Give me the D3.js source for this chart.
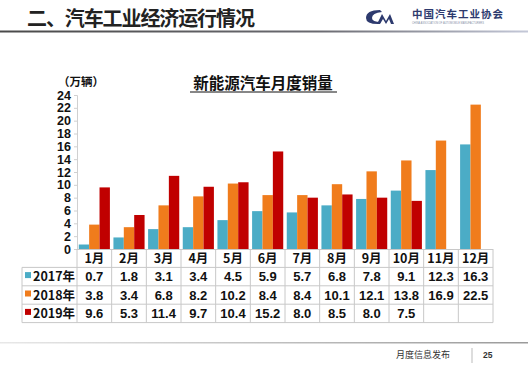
<!DOCTYPE html>
<html><head><meta charset="utf-8">
<script src="https://cdn.jsdelivr.net/npm/d3@7"></script>
<style>
body{margin:0;background:#fff;}
svg{display:block;font-family:"Liberation Sans","Noto Sans CJK SC",sans-serif;}
</style></head>
<body><svg id="c" width="528" height="365"></svg>
<script>
const months = ["1月","2月","3月","4月","5月","6月","7月","8月","9月","10月","11月","12月"];
const seriesNames = ["2017年","2018年","2019年"];
const v2017 = [0.7,1.8,3.1,3.4,4.5,5.9,5.7,6.8,7.8,9.1,12.3,16.3];
const v2018 = [3.8,3.4,6.8,8.2,10.2,8.4,8.4,10.1,12.1,13.8,16.9,22.5];
const v2019 = [9.6,5.3,11.4,9.7,10.4,15.2,8.0,8.5,8.0,7.5,null,null];
const yTicks = [0,2,4,6,8,10,12,14,16,18,20,22,24];
const colors = ["#4bacc6","#f07c1c","#c00000"];
const series = [v2017,v2018,v2019];

const svg = d3.select("#c");
const cjk = '"Noto Sans CJK SC",sans-serif';

// header
const defs = svg.append("defs");
const g1 = defs.append("linearGradient").attr("id","hl").attr("x1","0").attr("x2","1");
g1.append("stop").attr("offset","0").attr("stop-color","#4a4a4a");
g1.append("stop").attr("offset","0.6").attr("stop-color","#6a6a70");
g1.append("stop").attr("offset","1").attr("stop-color","#c4c8d8");
svg.append("text").attr("x",27).attr("y",26).attr("font-family",cjk).attr("font-weight","bold")
  .attr("font-size",20).attr("letter-spacing",-1.1).attr("fill","#222").text("二、汽车工业经济运行情况");
svg.append("rect").attr("x",0).attr("y",30.5).attr("width",528).attr("height",2).attr("fill","url(#hl)");
// logo
svg.append("path").attr("d","M380,10 Q366,10 366,18 Q366,24 378,24 L381,22 Q372,22 372,18 Q372,13 382,12 Z").attr("fill","#2d3a6e");
svg.append("path").attr("d","M377,24 L382,14 L386,21 L390,14 L394,24 L391,24 L389,19 L386,24 L383,19 L380,24 Z").attr("fill","#2d3a6e");
svg.append("text").attr("x",412).attr("y",18).attr("font-family",cjk).attr("font-weight","bold")
  .attr("font-size",10.5).attr("fill","#2d3a6e").attr("letter-spacing",1).text("中国汽车工业协会");
svg.append("text").attr("x",412).attr("y",24).attr("font-size",2.6).attr("fill","#8890a8")
  .text("CHINA ASSOCIATION OF AUTOMOBILE MANUFACTURERS");

// chart title
svg.append("text").attr("x",263).attr("y",89).attr("text-anchor","middle").attr("font-family",cjk)
  .attr("font-weight","bold").attr("font-size",15.5).attr("fill","#111").text("新能源汽车月度销量");
svg.append("line").attr("x1",190).attr("x2",337).attr("y1",92).attr("y2",92).attr("stroke","#111").attr("stroke-width",1.2);

// scales
const x = d3.scaleBand().domain(months).range([77,493]).paddingInner(0).paddingOuter(0);
const xi = d3.scaleBand().domain(d3.range(3)).range([0,x.bandwidth()]).paddingOuter(0.17).paddingInner(0);
const y = d3.scaleLinear().domain([0,24]).range([249,95]);

// y axis
const ya = svg.append("g").attr("transform","translate(77,0)")
  .call(d3.axisLeft(y).tickValues(yTicks).tickSize(3).tickPadding(3));
ya.select(".domain").attr("stroke","#d0d0d0");
ya.selectAll(".tick line").attr("stroke","#d0d0d0");
ya.selectAll("text").attr("font-weight","bold").attr("font-size",12.5).attr("fill","#111")
  .attr("font-family","Liberation Sans,sans-serif");
svg.append("text").attr("x",58).attr("y",86).attr("font-family",cjk).attr("font-weight","bold")
  .attr("font-size",11.5).attr("fill","#111").text("（万辆）");

// bars
series.forEach((s,i)=>{
  svg.append("g").selectAll("rect").data(months.map((m,j)=>({m,v:s[j]})).filter(d=>d.v!=null))
    .join("rect")
    .attr("x",d=>x(d.m)+xi(i)).attr("width",xi.bandwidth())
    .attr("y",d=>y(d.v)).attr("height",d=>y(0)-y(d.v))
    .attr("fill",colors[i]);
});

// table
const rowTop = 249, rowH = 18.4, tblLeft = 22, tblRight = 493;
const tg = svg.append("g");
const lineC = "#c8c8c8";
tg.append("line").attr("x1",77).attr("x2",tblRight).attr("y1",rowTop+0.5).attr("y2",rowTop+0.5).attr("stroke",lineC);
for(let r=1;r<=4;r++){
  tg.append("line").attr("x1",tblLeft).attr("x2",tblRight).attr("y1",rowTop+r*rowH).attr("y2",rowTop+r*rowH).attr("stroke",lineC);
}
months.forEach(m=>{
  tg.append("line").attr("x1",x(m)).attr("x2",x(m)).attr("y1",rowTop).attr("y2",rowTop+4*rowH).attr("stroke",lineC);
});
tg.append("line").attr("x1",tblRight).attr("x2",tblRight).attr("y1",rowTop).attr("y2",rowTop+4*rowH).attr("stroke",lineC);
tg.append("line").attr("x1",tblLeft).attr("x2",tblLeft).attr("y1",rowTop+rowH).attr("y2",rowTop+4*rowH).attr("stroke",lineC);

tg.selectAll("text.m").data(months).join("text").attr("class","m")
  .attr("x",d=>x(d)+x.bandwidth()/2).attr("y",rowTop+rowH/2+4.5).attr("text-anchor","middle")
  .attr("font-family",cjk).attr("font-weight","bold").attr("font-size",12.5).attr("fill","#111").text(d=>d);

series.forEach((s,i)=>{
  const cy = rowTop+(i+1)*rowH+rowH/2;
  tg.append("rect").attr("x",25).attr("y",cy-4.5).attr("width",6).attr("height",6).attr("fill",colors[i]);
  tg.append("text").attr("x",33).attr("y",cy+4.5).attr("font-family",cjk).attr("font-weight","bold")
    .attr("font-size",12.5).attr("fill","#111").text(seriesNames[i]);
  tg.selectAll(null).data(months.map((m,j)=>({m,v:s[j]})).filter(d=>d.v!=null)).join("text")
    .attr("x",d=>x(d.m)+x.bandwidth()/2).attr("y",cy+4.5).attr("text-anchor","middle")
    .attr("font-weight","bold").attr("font-size",13).attr("fill","#111").text(d=>d.v.toFixed(1));
});

// footer
const g2 = defs.append("linearGradient").attr("id","fl").attr("x1","0").attr("x2","1");
g2.append("stop").attr("offset","0").attr("stop-color","#e8e8e8");
g2.append("stop").attr("offset","1").attr("stop-color","#9a9a9a");
svg.append("rect").attr("x",0).attr("y",342).attr("width",528).attr("height",1.5).attr("fill","url(#fl)");
svg.append("text").attr("x",396).attr("y",358).attr("font-family",cjk).attr("font-size",9).attr("fill","#333").text("月度信息发布");
svg.append("line").attr("x1",472).attr("x2",472).attr("y1",348).attr("y2",363).attr("stroke","#bbb");
svg.append("text").attr("x",483).attr("y",358).attr("font-size",8.5).attr("font-weight","bold").attr("fill","#333").text("25");
</script></body></html>
